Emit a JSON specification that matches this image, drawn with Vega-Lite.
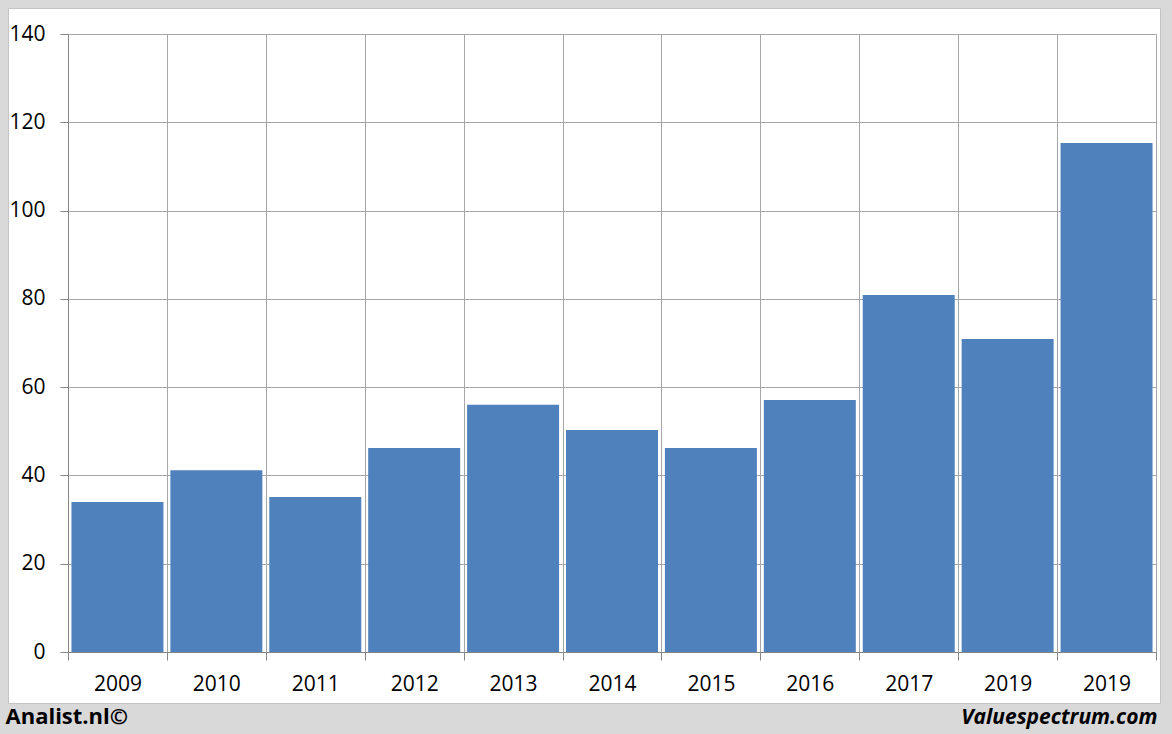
{
  "$schema": "https://vega.github.io/schema/vega-lite/v6.json",
  "width": 1152,
  "height": 695,
  "autosize": {"type": "none"},
  "padding": {"left": 8, "top": 8, "right": 12, "bottom": 31},
  "background": "#d9d9d9",
  "config": {
    "view": {"fill": "white", "stroke": "#c4c4c4"},
    "font": "Open Sans"
  },
  "data": {
    "values": [
      {"period": "2009", "value": 34.0},
      {"period": "2010", "value": 41.2},
      {"period": "2011", "value": 35.1},
      {"period": "2012", "value": 46.2},
      {"period": "2013", "value": 56.0},
      {"period": "2014", "value": 50.3},
      {"period": "2015", "value": 46.2},
      {"period": "2016", "value": 57.1},
      {"period": "2017", "value": 80.9},
      {"period": "2019", "value": 70.9},
      {"period": "2019 ", "value": 115.3}
    ]
  },
  "resolve": {"axis": {"x": "independent"}},
  "layer": [
    {
      "mark": {"type": "rule", "opacity": 0},
      "encoding": {
        "x": {
          "field": "period",
          "type": "nominal",
          "sort": null,
          "scale": {"range": [60, 1148], "paddingInner": 0, "paddingOuter": 0},
          "axis": {
            "orient": "bottom",
            "offset": -51,
            "tickBand": "extent",
            "grid": false,
            "domain": false,
            "labels": false,
            "ticks": true,
            "tickSize": -618,
            "tickColor": "#a6a6a6",
            "tickWidth": 1,
            "title": null
          }
        }
      }
    },
    {
      "mark": {"type": "bar", "color": "#4f81bd", "width": {"band": 0.93}},
      "encoding": {
        "x": {
          "field": "period",
          "type": "nominal",
          "sort": null,
          "axis": {
            "orient": "bottom",
            "offset": -51,
            "tickBand": "extent",
            "grid": false,
            "domainColor": "#868686",
            "tickColor": "#868686",
            "tickSize": 8,
            "labelAngle": 0,
            "labelFontSize": 21,
            "labelColor": "#000000",
            "labelPadding": 13,
            "labelExpr": "trim(datum.label)",
            "title": "Valuespectrum.com",
            "titleFontSize": 21,
            "titleFontWeight": "bold",
            "titleFontStyle": "italic",
            "titleColor": "#000000",
            "titleX": 1149,
            "titleY": 71,
            "titleAlign": "right",
            "titleBaseline": "alphabetic"
          }
        },
        "y": {
          "field": "value",
          "type": "quantitative",
          "scale": {"domain": [0, 140], "range": [644, 26], "nice": false},
          "axis": {
            "offset": -60,
            "values": [0, 20, 40, 60, 80, 100, 120, 140],
            "grid": true,
            "gridColor": "#a6a6a6",
            "domainColor": "#868686",
            "tickColor": "#868686",
            "tickSize": 8,
            "labelFontSize": 21,
            "labelColor": "#000000",
            "labelPadding": 15,
            "title": "Analist.nl©",
            "titleAngle": 0,
            "titleFontSize": 22,
            "titleFontWeight": "bold",
            "titleColor": "#000000",
            "titleX": -63,
            "titleY": 715,
            "titleAlign": "left",
            "titleBaseline": "alphabetic"
          }
        }
      }
    }
  ]
}
